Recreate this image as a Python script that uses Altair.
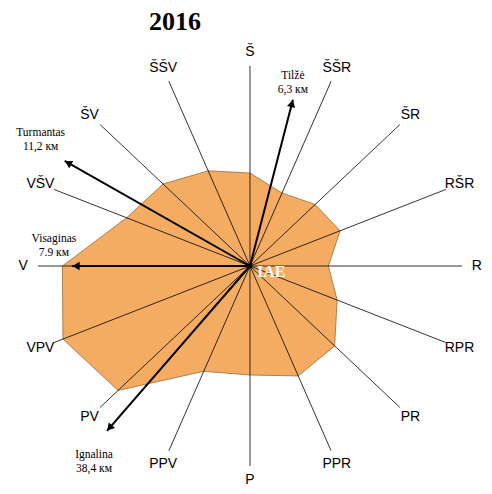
import altair as alt
import pandas as pd

# ---- data ----
directions = ["Š", "ŠŠR", "ŠR", "RŠR", "R", "RPR", "PR", "PPR",
              "P", "PPV", "PV", "VPV", "V", "VŠV", "ŠV", "ŠŠV"]
frequency = [9.3, 7.9, 8.7, 9.2, 7.4, 8.9, 11.3, 11.9,
             10.9, 11.4, 17.6, 19.1, 17.7, 12.6, 11.6, 10.3]
spoke_length = 20
label_radius = 21.4

towns = ["Tilžė", "Turmantas", "Visaginas", "Ignalina"]
town_distances = ["6,3 км", "11,2 км", "7.9 км", "38,4 км"]
town_bearing = [13.7, 301.0, 270.0, 219.3]
arrow_length = [17.1, 20.4, 16.8, 21.3]

# ---- layout ----
W, H = 476, 449
XDOM = [-22.83, 22.08]
YDOM = [-22.0, 22.9]
KX = W / (XDOM[1] - XDOM[0])
KY = H / (YDOM[1] - YDOM[0])

xs = alt.Scale(domain=XDOM, nice=False, zero=False)
ys = alt.Scale(domain=YDOM, nice=False, zero=False)

dir_df = pd.DataFrame({
    "dir": directions,
    "idx": list(range(len(directions))),
    "freq": frequency,
})
dir_df["spoke"] = spoke_length
dir_df["lab_r"] = label_radius

town_df = pd.DataFrame({
    "town": towns,
    "dist": town_distances,
    "bearing": town_bearing,
    "len": arrow_length,
})

base_dir = alt.Chart(dir_df).transform_calculate(
    ang="datum.idx * 22.5 * PI / 180"
)

polygon = base_dir.transform_calculate(
    px="datum.freq * sin(datum.ang)",
    py="datum.freq * cos(datum.ang)",
).mark_line(
    interpolate="linear-closed", fill="#F4AC62", stroke="#9A6A3A",
    strokeWidth=0.8
).encode(
    x=alt.X("px:Q", scale=xs, axis=None),
    y=alt.Y("py:Q", scale=ys, axis=None),
    order="idx:Q",
)

spokes = base_dir.transform_calculate(
    ex="datum.spoke * sin(datum.ang)",
    ey="datum.spoke * cos(datum.ang)",
    zero="0",
).mark_rule(color="black", strokeWidth=0.8).encode(
    x=alt.X("zero:Q", scale=xs, axis=None),
    y=alt.Y("zero:Q", scale=ys, axis=None),
    x2="ex:Q",
    y2="ey:Q",
)

dir_labels = base_dir.transform_calculate(
    lx="datum.lab_r * sin(datum.ang)",
    ly="datum.lab_r * cos(datum.ang)",
).mark_text(font="Liberation Sans", fontSize=14, color="black").encode(
    x=alt.X("lx:Q", scale=xs, axis=None),
    y=alt.Y("ly:Q", scale=ys, axis=None),
    text="dir:N",
)

base_town = alt.Chart(town_df).transform_calculate(
    tx="datum.len * sin(datum.bearing * PI / 180)",
    ty="datum.len * cos(datum.bearing * PI / 180)",
    hx="(datum.len - 0.5) * sin(datum.bearing * PI / 180)",
    hy="(datum.len - 0.5) * cos(datum.bearing * PI / 180)",
    zero="0",
).transform_calculate(
    vis_ang=f"atan2(datum.tx * {KX}, datum.ty * {KY}) * 180 / PI",
)

arrows = base_town.mark_rule(color="black", strokeWidth=2).encode(
    x=alt.X("zero:Q", scale=xs, axis=None),
    y=alt.Y("zero:Q", scale=ys, axis=None),
    x2="tx:Q",
    y2="ty:Q",
)

heads = base_town.transform_calculate(
    angp="(datum.vis_ang + 360) % 360"
).mark_point(shape="triangle", filled=True, color="black", size=70, opacity=1).encode(
    x=alt.X("hx:Q", scale=xs, axis=None),
    y=alt.Y("hy:Q", scale=ys, axis=None),
    angle=alt.Angle("angp:Q", scale=None),
)

offsets = {"Tilžė": (0, -24), "Turmantas": (-24, -28),
           "Visaginas": (-18, -27), "Ignalina": (-13, 24)}
town_layers = []
for t in towns:
    dx, dy = offsets[t]
    town_layers.append(
        base_town.transform_filter(alt.datum.town == t).transform_calculate(
            lbl="datum.town + '\\n' + datum.dist"
        ).mark_text(font="Liberation Serif", fontSize=11.5, color="black",
                    lineBreak="\n", dx=dx, dy=dy, lineHeight=14).encode(
            x=alt.X("tx:Q", scale=xs, axis=None),
            y=alt.Y("ty:Q", scale=ys, axis=None),
            text="lbl:N",
        )
    )

center_df = pd.DataFrame({"name": ["IAE"], "cx": [0], "cy": [0]})
center_dot = alt.Chart(center_df).mark_point(filled=True, color="black", size=25, opacity=1).encode(
    x=alt.X("cx:Q", scale=xs, axis=None),
    y=alt.Y("cy:Q", scale=ys, axis=None),
)
center_label = alt.Chart(center_df).mark_text(
    font="Liberation Serif", fontSize=16, fontWeight="bold", color="white",
    align="left", dx=7, dy=6
).encode(
    x=alt.X("cx:Q", scale=xs, axis=None),
    y=alt.Y("cy:Q", scale=ys, axis=None),
    text="name:N",
)

chart = alt.layer(
    polygon, spokes, arrows, heads, center_dot, center_label, dir_labels, *town_layers
).properties(
    width=W, height=H,
    title=alt.TitleParams("2016", font="Liberation Serif", fontSize=26,
                          fontWeight="bold", color="black", anchor="middle",
                          dx=-71, offset=2),
    autosize=alt.AutoSizeParams(type="none"),
    padding={"left": 0, "top": 29, "right": 0, "bottom": 0},
).configure_view(stroke=None)

chart.save("out.html", embed_options={"renderer": "svg", "actions": False})
